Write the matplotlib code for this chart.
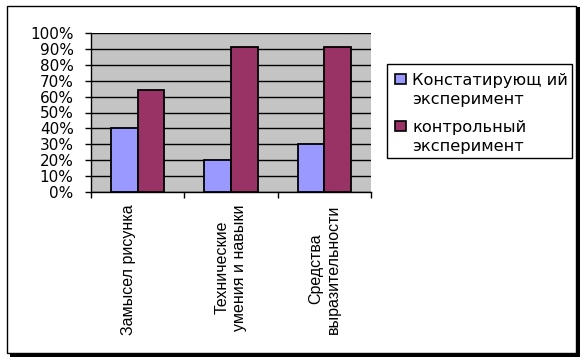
import numpy as np
import matplotlib
matplotlib.use("Agg")
import matplotlib.pyplot as plt
from matplotlib.patches import Rectangle

categories = ["Замысел рисунка\n", "Технические\nумения и навыки", "Средства\nвыразительности"]
series_names = ["Констатирующ ий\nэксперимент", "контрольный\nэксперимент"]
ascertaining = [0.40, 0.20, 0.30]
control = [0.64, 0.91, 0.91]
yticks = [0, 0.1, 0.2, 0.3, 0.4, 0.5, 0.6, 0.7, 0.8, 0.9, 1.0]
ytick_labels = ["0%", "10%", "20%", "30%", "40%", "50%", "60%", "70%", "80%", "90%", "100%"]

W, H = 588, 361
blue = "#9999ff"
red = "#993366"

fig = plt.figure(figsize=(W / 100, H / 100), dpi=100)

def fx(x):  # pixel -> figure fraction
    return x / W

def fy(y):
    return 1 - y / H

# outer frame with shadow
fig.patches.append(Rectangle((fx(10), fy(357)), fx(570), 350 / H, transform=fig.transFigure,
                             facecolor="black", edgecolor="none", zorder=0))
fig.patches.append(Rectangle((fx(7), fy(353)), fx(569), 347 / H, transform=fig.transFigure,
                             facecolor="white", edgecolor="black", lw=1, zorder=1))

ax = fig.add_axes([fx(91), fy(192), fx(280), 159 / H])
ax.set_zorder(2)
ax.set_facecolor("#c4c4c4")

x = np.arange(len(categories))
w = 0.286
ax.bar(x - w / 2, ascertaining, w, color=blue, edgecolor="black", lw=1.3, zorder=3)
ax.bar(x + w / 2, control, w, color=red, edgecolor="black", lw=1.3, zorder=3)

ax.set_xlim(-0.5, len(categories) - 0.5)
ax.set_ylim(0, 1)
ax.set_yticks(yticks)
ax.set_yticklabels(ytick_labels, fontsize=11, family="DejaVu Sans")
ax.yaxis.grid(True, color="black", lw=1, zorder=1)
ax.set_axisbelow(True)
ax.tick_params(axis="y", direction="out", length=4.5, width=1, pad=8)

ax.set_xticks(x)
ax.set_xticklabels(categories, rotation=90, fontsize=11.5, family="Liberation Sans")
for lab in ax.get_xticklabels():
    lab.set_multialignment("center")
ax.set_xticks(np.arange(len(categories) + 1) - 0.5, minor=True)
ax.tick_params(axis="x", which="major", length=0, pad=9)
ax.tick_params(axis="x", which="minor", direction="out", length=4, width=1)

for s in ["top", "right"]:
    ax.spines[s].set_visible(False)
for s in ["left", "bottom"]:
    ax.spines[s].set_color("black")
    ax.spines[s].set_linewidth(1)

# legend box
fig.patches.append(Rectangle((fx(387), fy(158)), fx(185), 94 / H, transform=fig.transFigure,
                             facecolor="white", edgecolor="black", lw=1, zorder=3))
baselines = [83, 130]
for name, col, b in zip(series_names, [blue, red], baselines):
    fig.patches.append(Rectangle((fx(395), fy(b + 1)), fx(11), 10 / H, transform=fig.transFigure,
                                 facecolor=col, edgecolor="black", lw=1.2, zorder=4))
    # va="baseline" pins the last line, so place it one line below the first
    fig.text(fx(412), fy(b + 21), name, fontsize=11.7, family="DejaVu Sans", va="baseline",
             ha="left", linespacing=1.3, zorder=5)

fig.savefig("out.png", dpi=100)
